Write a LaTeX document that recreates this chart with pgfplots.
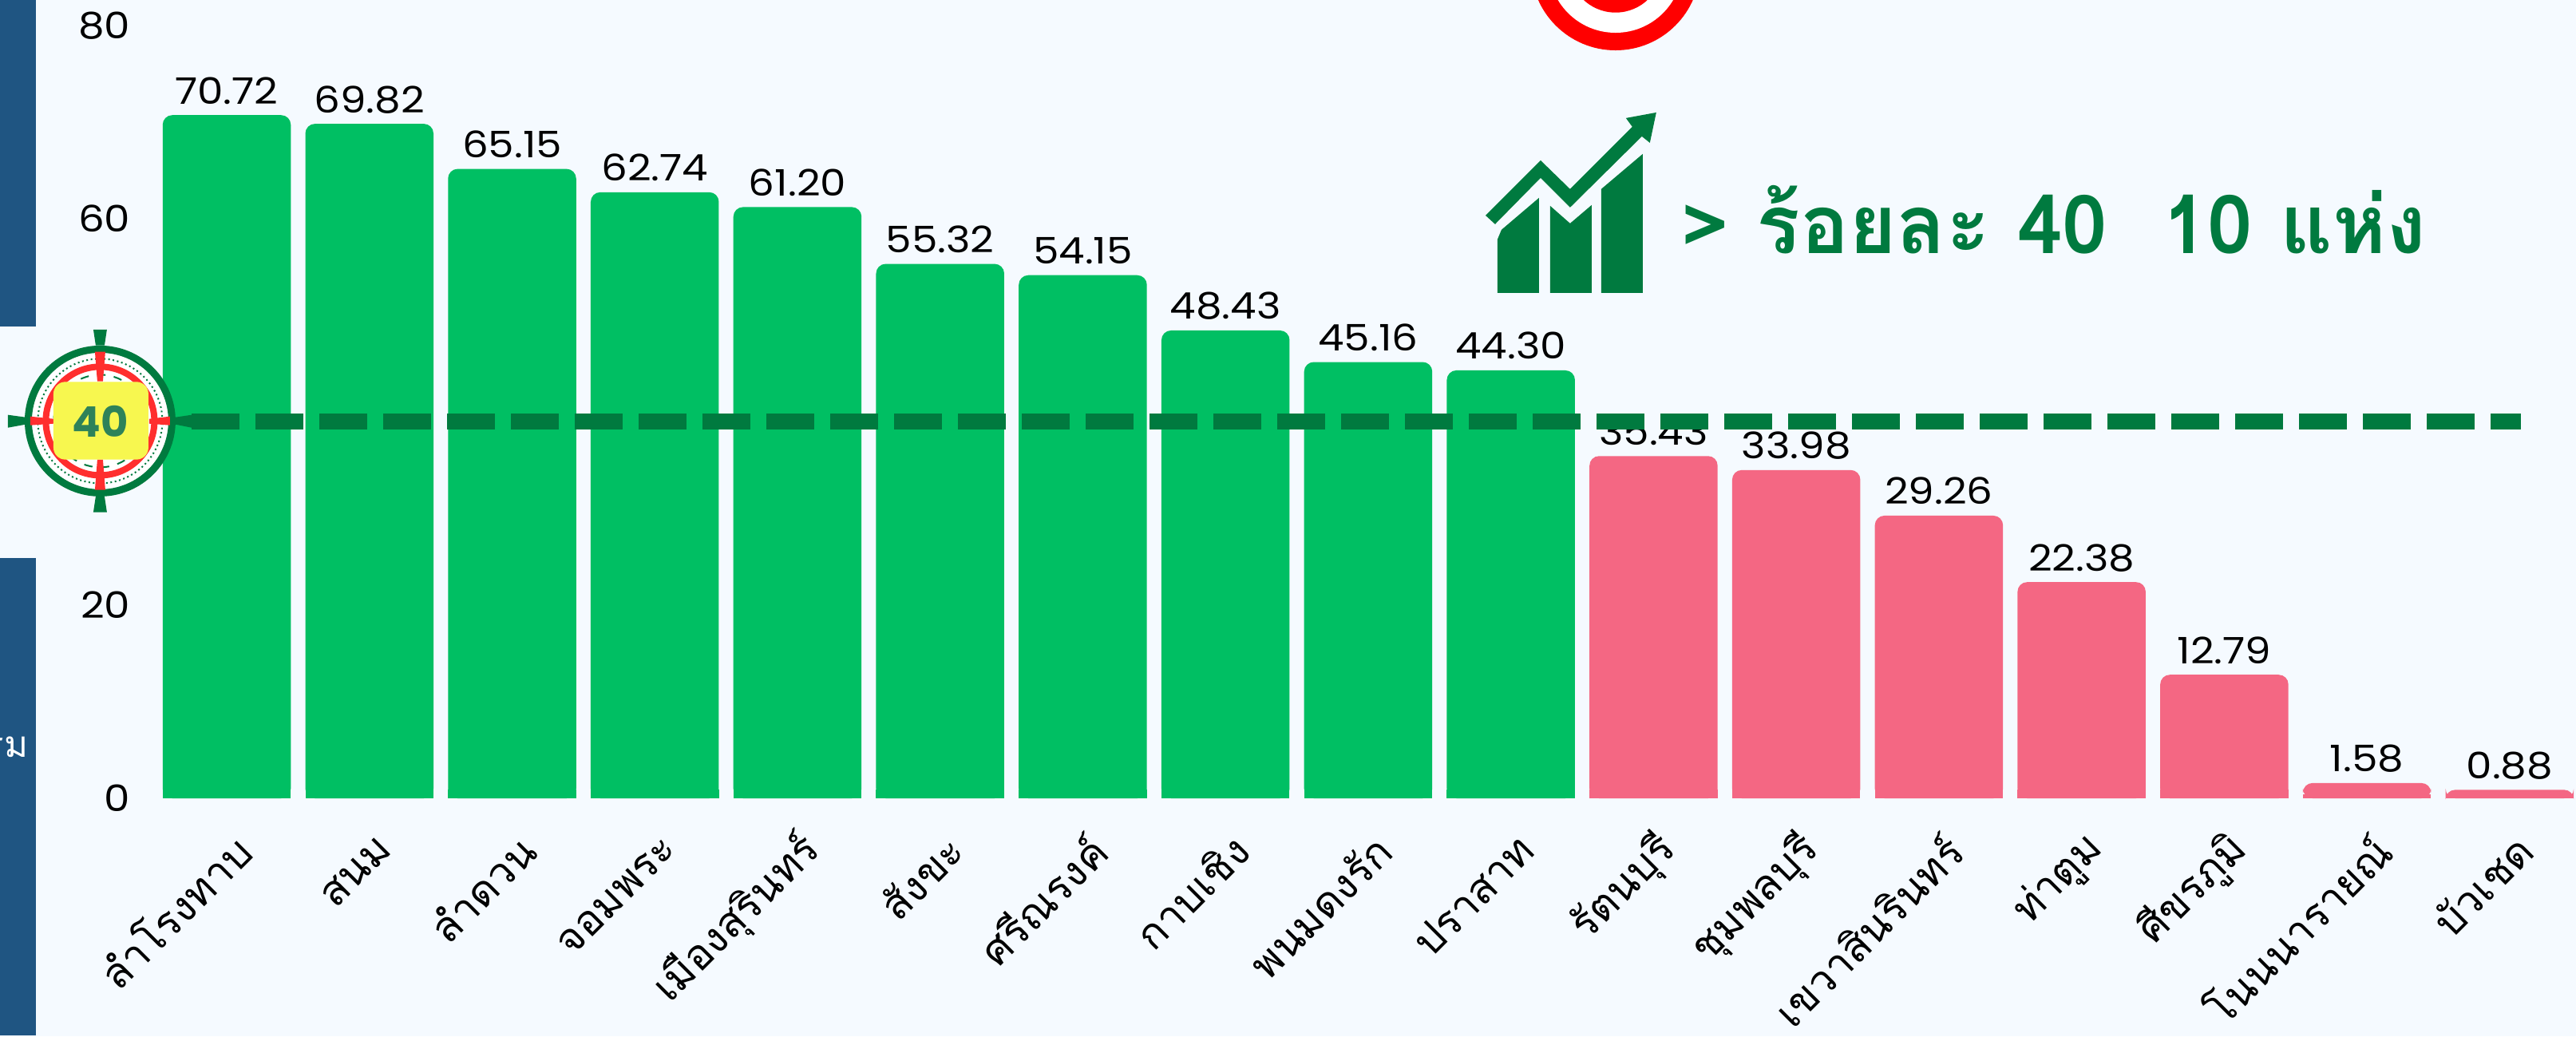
\documentclass[border=0pt]{standalone}
\usepackage{pgfplots}
\pgfplotsset{compat=1.18}
\usepackage{fontspec}
\setmainfont{Poppins}
\newfontfamily\numfont[FakeStretch=1.13]{Poppins}
\newfontfamily\thaifont[Script=Thai]{Loma}
\definecolor{bgc}{HTML}{F5FAFF}
\definecolor{stripc}{HTML}{1F5582}
\definecolor{barg}{HTML}{00BF63}
\definecolor{barr}{HTML}{F46783}
\definecolor{dg}{HTML}{007A3F}
\definecolor{yel}{HTML}{F7F74F}
\definecolor{redc}{HTML}{FF2E2E}
\begin{document}
\begin{tikzpicture}
\useasboundingbox (0,0) rectangle (32.27,12.98);
\clip (0,0) rectangle (32.27,12.98);
\fill[bgc] (0,0) rectangle (32.27,12.98);
\begin{axis}[
  at={(1.95cm,2.98cm)}, anchor=south west,
  scale only axis, width=30.32cm, height=10cm,
  xmin=-0.498, xmax=16.465, ymin=0, ymax=82.64,
  clip=false,
  axis line style={draw=none},
  major tick length=0pt,
  xtick={0,...,16},
  xticklabels={ลำโรงทาบ,สนม,ลำดวน,จอมพระ,เมืองสุรินทร์,สังขะ,ศรีณรงค์,กาบเชิง,พนมดงรัก,ปราสาท,รัตนบุรี,ชุมพลบุรี,เขวาสินรินทร์,ท่าตูม,ศีขรภูมิ,โนนนารายณ์,บัวเชด},
  xticklabel style={font=\thaifont\fontsize{15}{18}\selectfont, rotate=45, anchor=east, inner sep=0pt, xshift=-0.25cm, yshift=-0.53cm},
  ytick={0,20,40,60,80},
  yticklabel style={font=\numfont\fontsize{13}{15}\selectfont, anchor=east, inner sep=0pt, xshift=-0.31cm, /pgf/number format/assume math mode=true},
  nodes near coords={\pgfmathprintnumber[fixed,fixed zerofill,precision=2,assume math mode=true]{\pgfplotspointmeta}},
  nodes near coords style={font=\numfont\fontsize{13}{15}\selectfont, text=black, anchor=base, inner sep=0pt, yshift=0.14cm},
]
\addplot[ybar, bar width=1.605cm, bar shift=0pt, fill=barg, draw=none, rounded corners=0.12cm] coordinates {
(0,70.72) (1,69.82) (2,65.15) (3,62.74) (4,61.20) (5,55.32) (6,54.15) (7,48.43) (8,45.16) (9,44.30)};
\addplot[ybar, bar width=1.605cm, bar shift=0pt, fill=barr, draw=none, rounded corners=0.12cm] coordinates {
(10,35.43) (11,33.98) (12,29.26) (13,22.38) (14,12.79) (15,1.58) (16,0.88)};
% square off the foot of each bar
\pgfplotsinvokeforeach{0,...,9}{\fill[barg] (axis cs:#1-0.449,0) rectangle (axis cs:#1+0.449,0.9);}
\pgfplotsinvokeforeach{10,...,14}{\fill[barr] (axis cs:#1-0.449,0) rectangle (axis cs:#1+0.449,0.9);}
\pgfplotsinvokeforeach{15,16}{\fill[barr] (axis cs:#1-0.449,0) rectangle (axis cs:#1+0.449,0.4);}
\end{axis}
\begin{axis}[
  at={(1.95cm,2.98cm)}, anchor=south west,
  scale only axis, width=30.32cm, height=10cm,
  xmin=-0.498, xmax=16.465, ymin=0, ymax=82.64,
  hide axis, clip=false,
]
\addplot[dg, line width=0.2cm, dash pattern=on 0.6cm off 0.2cm] coordinates {(-0.246,39.03) (16.08,39.03)};
\end{axis}
\begin{scope}[shift={(0,12.98)}, x=0.01cm, y=-0.01cm]
% side strips
\fill[stripc] (0,0) rectangle (45,409);
\fill[stripc] (0,699) rectangle (45,1298);
\node[anchor=east, text=white, inner sep=0pt, font=\thaifont\fontsize{13}{15}\selectfont] at (36,936) {รม};
% target at the top
\fill[red] (2025,-43) circle [radius=1.06cm];
\fill[white] (2025,-43) circle [radius=0.84cm];
\fill[red] (2025,-43) circle [radius=0.587cm];
\fill[white] (2025,-43) circle [radius=0.40cm];
% trend icon
\fill[dg] (1877,367) -- (1877,300) -- (1882,288) -- (1929,248) -- (1929,367) -- cycle;
\fill[dg] (1943,367) -- (1943,258) -- (1968,280) -- (1995,257) -- (1995,367) -- cycle;
\fill[dg] (2007,367) -- (2007,237) -- (2059,193) -- (2059,367) -- cycle;
\fill[dg] (1862,270) -- (1931,201) -- (1968,237) -- (2046,159) -- (2038,148) -- (2076,141) -- (2068,179) -- (2058,171) -- (1968,260) -- (1931,223) -- (1874,281) -- cycle;
\node[anchor=base west, text=dg, inner sep=0pt, font=\thaifont\bfseries\fontsize{29}{34}\selectfont] at (2107,318) {> ร้อยละ 40\ \ 10 แห่ง};
% 40 target marker
\fill[white] (125.5,527.7) circle [radius=0.9cm];
\draw[dg, line width=0.09cm] (125.5,527.7) circle [radius=0.9cm];
\draw[dg, line width=0.02cm, densely dotted] (125.5,527.7) circle [radius=0.78cm];
\draw[redc, line width=0.08cm] (125.5,527.7) circle [radius=0.68cm];
\draw[dg, line width=0.02cm, dashed] (125.5,527.7) circle [radius=0.58cm];
\fill[dg] (117,413) -- (134,413) -- (131,433) -- (120,433) -- cycle;
\fill[dg] (117,642) -- (134,642) -- (131,622) -- (120,622) -- cycle;
\fill[dg] (10,520) -- (32,523) -- (32,532) -- (10,536) -- cycle;
\fill[dg] (220,523) -- (240,520) -- (240,536) -- (220,532) -- cycle;
\fill[redc] (119,441) -- (132,441) -- (129,478) -- (122,478) -- cycle;
\fill[redc] (119,614) -- (132,614) -- (129,576) -- (122,576) -- cycle;
\fill[redc] (38,522) -- (67,525) -- (67,531) -- (38,533) -- cycle;
\fill[redc] (187,525) -- (213,522) -- (213,533) -- (187,531) -- cycle;
\fill[yel, rounded corners=0.15cm] (67,478.6) rectangle (186,576);
\node[text={rgb,255:red,46;green,130;blue,89}, inner sep=0pt, font=\bfseries\fontsize{15}{18}\selectfont] at (126,528) {40};
\end{scope}
\end{tikzpicture}
\end{document}
